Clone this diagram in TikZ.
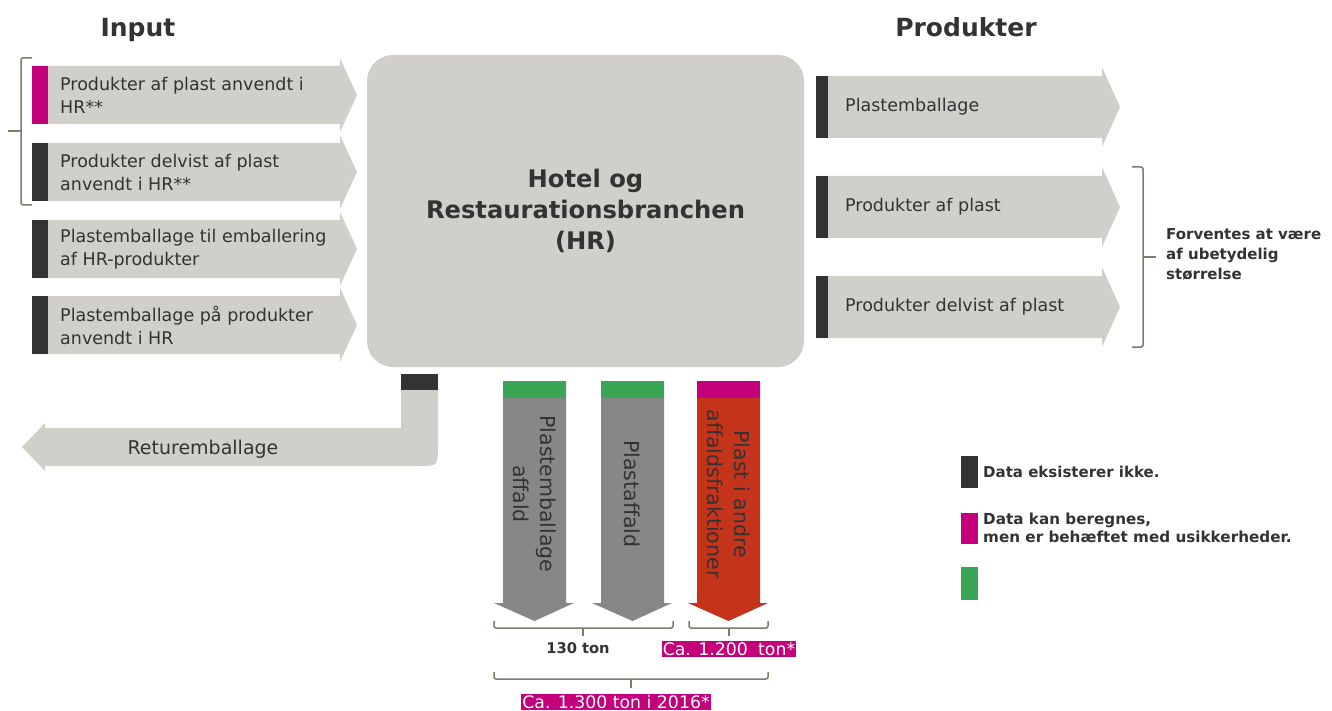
\documentclass[tikz,border=0pt]{standalone}
\usepackage{fontspec}
\setmainfont{DejaVu Sans}
\definecolor{lgray}{HTML}{D0CFCA}
\definecolor{dbar}{HTML}{333333}
\definecolor{mag}{HTML}{C4007A}
\definecolor{grn}{HTML}{3AA655}
\definecolor{redd}{HTML}{C4331A}
\definecolor{mgray}{HTML}{878787}
\definecolor{brk}{HTML}{7F7A6A}
\definecolor{txt}{HTML}{333333}
\newcommand\InArrow[4]{% name, y center, bar colour, text
  \fill[lgray] (32,#2-29) -- (340,#2-29) -- (340,#2-37) -- (357,#2) -- (340,#2+37) -- (340,#2+29) -- (32,#2+29) -- cycle;
  \fill[#3] (32,#2-29) rectangle (48,#2+29);
  \node[intext] (#1) at (60,#2) {#4};
}
\newcommand\OutArrow[3]{% name, y center, text
  \fill[lgray] (816,#2-31) -- (1102,#2-31) -- (1102,#2-40) -- (1120,#2) -- (1102,#2+40) -- (1102,#2+31) -- (816,#2+31) -- cycle;
  \fill[dbar] (816,#2-31) rectangle (828,#2+31);
  \node[intext] (#1) at (845,#2) {#3};
}
\newcommand\DownArrow[5]{% name, left x, top colour, body colour, text
  \fill[#4] (#2,381) -- (#2+63,381) -- (#2+63,603) -- (#2+71,603) -- (#2+31.5,621) -- (#2-9,603) -- (#2,603) -- cycle;
  \fill[#3] (#2,381) rectangle (#2+63,398);
  \node[downtext] (#1) at (#2+31.5,494) {#5};
}
\begin{document}
\begin{tikzpicture}[x=1pt,y=-1pt,
  intext/.style={anchor=west,align=left,text=txt,inner sep=0pt,font=\fontsize{17.5}{23}\selectfont},
  downtext/.style={rotate=-90,align=center,text=txt,inner sep=0pt,font=\fontsize{20.5}{27}\selectfont},
  hdr/.style={font=\fontsize{25}{28}\selectfont\bfseries,text=txt,inner sep=0pt,anchor=base},
  boldlbl/.style={font=\fontsize{15}{20}\selectfont\bfseries,text=txt,inner sep=0pt,align=left,anchor=west},
  maglbl/.style={fill=mag,text=white,font=\fontsize{17.3}{19}\selectfont,inner sep=1.2pt},
  brace/.style={draw=brk,line width=1.5pt,rounded corners=2pt}]
\useasboundingbox (0,0) rectangle (1332,711);

% headers
\node[hdr] (hin) at (138,37) {Input};
\node[hdr] (hout) at (966,37) {Produkter};

% input arrows
\InArrow{in1}{95}{mag}{Produkter af plast anvendt i\\HR**}
\InArrow{in2}{172}{dbar}{Produkter delvist af plast\\anvendt i HR**}
\InArrow{in3}{249}{dbar}{Plastemballage til emballering\\af HR-produkter}
\InArrow{in4}{325}{dbar}{Plastemballage på produkter\\anvendt i HR}

% left bracket
\draw[brace] (32,58) -- (21,58) -- (21,205) -- (32,205);
\draw[brace] (21,131) -- (8,131);

% central box
\node[fill=lgray,rounded corners=26pt,minimum width=437pt,minimum height=312pt,
  align=center,text=txt,font=\fontsize{24.2}{31}\selectfont\bfseries] (hr) at (585.5,211)
  {Hotel og\\Restaurationsbranchen\\(HR)};

% output arrows
\OutArrow{out1}{107}{Plastemballage}
\OutArrow{out2}{207}{Produkter af plast}
\OutArrow{out3}{307}{Produkter delvist af plast}

% right bracket
\draw[brace] (1132,167) -- (1143,167) -- (1143,347) -- (1132,347);
\draw[brace] (1143,257) -- (1156,257);
\node[boldlbl] (neg) at (1166,254) {Forventes at være\\af ubetydelig\\størrelse};

% return packaging
\fill[lgray] (438,374) -- (438,446) .. controls (438,466) .. (418,466) -- (45,466) -- (45,471) -- (22,447) -- (45,423) -- (45,428) -- (401,428) -- (401,374) -- cycle;
\fill[dbar] (401,374) rectangle (438,390);
\node[text=txt,font=\fontsize{19}{20}\selectfont,inner sep=0pt] (ret) at (203,449) {Returemballage};

% waste arrows
\DownArrow{w1}{503}{grn}{mgray}{Plastemballage\\affald}
\DownArrow{w2}{601}{grn}{mgray}{Plastaffald}
\DownArrow{w3}{697}{mag}{redd}{Plast i andre\\affaldsfraktioner}

% bottom brackets
\draw[brace] (494,621) -- (494,628) -- (673,628) -- (673,621);
\draw[brace] (583,628) -- (583,636);
\node[font=\fontsize{14.7}{18}\selectfont\bfseries,text=txt,inner sep=0pt] (t130) at (578,648) {130 ton};
\draw[brace] (689,621) -- (689,628) -- (768,628) -- (768,621);
\draw[brace] (729,628) -- (729,636);
\node[maglbl] (t1200) at (729,649) {Ca. 1.200\hspace{0.6em}ton*};
\draw[brace] (494,672) -- (494,679) -- (768,679) -- (768,672);
\draw[brace] (631,679) -- (631,688);
\node[maglbl] (t1300) at (616,702) {Ca. 1.300 ton i 2016*};

% legend
\fill[dbar] (961,456) rectangle (978,488);
\node[boldlbl] (l1) at (983,472) {Data eksisterer ikke.};
\fill[mag] (961,513) rectangle (978,544);
\node[boldlbl,font=\fontsize{15.2}{17.5}\selectfont\bfseries] (l2) at (983,528) {Data kan beregnes,\\men er behæftet med usikkerheder.};
\fill[grn] (961,567) rectangle (978,600);
\end{tikzpicture}
\end{document}
